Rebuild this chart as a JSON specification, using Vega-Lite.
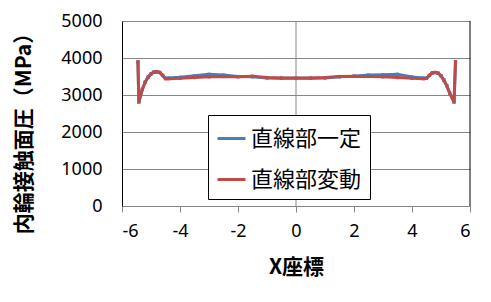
{
  "$schema": "https://vega.github.io/schema/vega-lite/v6.json",
  "width": 348,
  "height": 185,
  "autosize": {"type": "none"},
  "padding": {"left": 122, "top": 21, "right": 21, "bottom": 96},
  "background": "white",
  "config": {
    "view": {"stroke": null},
    "font": "Noto Sans CJK JP"
  },
  "datasets": {
    "series": [
      {"x": -5.45, "y": 3900, "s": "直線部一定"},
      {"x": -5.42, "y": 2810, "s": "直線部一定"},
      {"x": -5.3, "y": 3150, "s": "直線部一定"},
      {"x": -5.2, "y": 3350, "s": "直線部一定"},
      {"x": -5.1, "y": 3480, "s": "直線部一定"},
      {"x": -5.0, "y": 3570, "s": "直線部一定"},
      {"x": -4.9, "y": 3620, "s": "直線部一定"},
      {"x": -4.8, "y": 3630, "s": "直線部一定"},
      {"x": -4.7, "y": 3610, "s": "直線部一定"},
      {"x": -4.6, "y": 3530, "s": "直線部一定"},
      {"x": -4.5, "y": 3450, "s": "直線部一定"},
      {"x": -4.4, "y": 3460, "s": "直線部一定"},
      {"x": -4.0, "y": 3480, "s": "直線部一定"},
      {"x": -3.5, "y": 3520, "s": "直線部一定"},
      {"x": -3.0, "y": 3560, "s": "直線部一定"},
      {"x": -2.5, "y": 3540, "s": "直線部一定"},
      {"x": -2.0, "y": 3500, "s": "直線部一定"},
      {"x": -1.5, "y": 3490, "s": "直線部一定"},
      {"x": -1.0, "y": 3460, "s": "直線部一定"},
      {"x": -0.5, "y": 3450, "s": "直線部一定"},
      {"x": 0, "y": 3450, "s": "直線部一定"},
      {"x": 0.5, "y": 3450, "s": "直線部一定"},
      {"x": 1.0, "y": 3460, "s": "直線部一定"},
      {"x": 1.5, "y": 3490, "s": "直線部一定"},
      {"x": 2.0, "y": 3510, "s": "直線部一定"},
      {"x": 2.5, "y": 3540, "s": "直線部一定"},
      {"x": 3.0, "y": 3550, "s": "直線部一定"},
      {"x": 3.5, "y": 3560, "s": "直線部一定"},
      {"x": 4.0, "y": 3490, "s": "直線部一定"},
      {"x": 4.4, "y": 3460, "s": "直線部一定"},
      {"x": 4.5, "y": 3450, "s": "直線部一定"},
      {"x": 4.6, "y": 3530, "s": "直線部一定"},
      {"x": 4.7, "y": 3600, "s": "直線部一定"},
      {"x": 4.8, "y": 3610, "s": "直線部一定"},
      {"x": 4.9, "y": 3590, "s": "直線部一定"},
      {"x": 5.0, "y": 3520, "s": "直線部一定"},
      {"x": 5.1, "y": 3400, "s": "直線部一定"},
      {"x": 5.2, "y": 3250, "s": "直線部一定"},
      {"x": 5.3, "y": 3050, "s": "直線部一定"},
      {"x": 5.45, "y": 2810, "s": "直線部一定"},
      {"x": 5.5, "y": 3900, "s": "直線部一定"},
      {"x": -5.45, "y": 3900, "s": "直線部変動"},
      {"x": -5.42, "y": 2810, "s": "直線部変動"},
      {"x": -5.3, "y": 3150, "s": "直線部変動"},
      {"x": -5.2, "y": 3350, "s": "直線部変動"},
      {"x": -5.1, "y": 3480, "s": "直線部変動"},
      {"x": -5.0, "y": 3570, "s": "直線部変動"},
      {"x": -4.9, "y": 3620, "s": "直線部変動"},
      {"x": -4.8, "y": 3630, "s": "直線部変動"},
      {"x": -4.7, "y": 3610, "s": "直線部変動"},
      {"x": -4.6, "y": 3530, "s": "直線部変動"},
      {"x": -4.5, "y": 3440, "s": "直線部変動"},
      {"x": -4.4, "y": 3440, "s": "直線部変動"},
      {"x": -4.0, "y": 3450, "s": "直線部変動"},
      {"x": -3.5, "y": 3470, "s": "直線部変動"},
      {"x": -3.0, "y": 3490, "s": "直線部変動"},
      {"x": -2.5, "y": 3500, "s": "直線部変動"},
      {"x": -2.0, "y": 3490, "s": "直線部変動"},
      {"x": -1.5, "y": 3510, "s": "直線部変動"},
      {"x": -1.0, "y": 3470, "s": "直線部変動"},
      {"x": -0.5, "y": 3460, "s": "直線部変動"},
      {"x": 0, "y": 3460, "s": "直線部変動"},
      {"x": 0.5, "y": 3460, "s": "直線部変動"},
      {"x": 1.0, "y": 3470, "s": "直線部変動"},
      {"x": 1.5, "y": 3500, "s": "直線部変動"},
      {"x": 2.0, "y": 3510, "s": "直線部変動"},
      {"x": 2.5, "y": 3500, "s": "直線部変動"},
      {"x": 3.0, "y": 3490, "s": "直線部変動"},
      {"x": 3.5, "y": 3470, "s": "直線部変動"},
      {"x": 4.0, "y": 3450, "s": "直線部変動"},
      {"x": 4.4, "y": 3440, "s": "直線部変動"},
      {"x": 4.5, "y": 3450, "s": "直線部変動"},
      {"x": 4.6, "y": 3530, "s": "直線部変動"},
      {"x": 4.7, "y": 3600, "s": "直線部変動"},
      {"x": 4.8, "y": 3610, "s": "直線部変動"},
      {"x": 4.9, "y": 3590, "s": "直線部変動"},
      {"x": 5.0, "y": 3520, "s": "直線部変動"},
      {"x": 5.1, "y": 3400, "s": "直線部変動"},
      {"x": 5.2, "y": 3250, "s": "直線部変動"},
      {"x": 5.3, "y": 3050, "s": "直線部変動"},
      {"x": 5.45, "y": 2810, "s": "直線部変動"},
      {"x": 5.5, "y": 3900, "s": "直線部変動"}
    ],
    "mid": [{"x": 0}],
    "right": [{"x": 6}]
  },
  "layer": [
    {
      "data": {"name": "mid"},
      "mark": {"type": "rule", "strokeWidth": 1, "color": "#868686"},
      "encoding": {
        "x": {"field": "x", "type": "quantitative", "scale": {"domain": [-6, 6], "nice": false}}
      }
    },
    {
      "data": {"name": "right"},
      "mark": {"type": "rule", "strokeWidth": 1, "color": "#000000"},
      "encoding": {
        "x": {"field": "x", "type": "quantitative"}
      }
    },
    {
      "data": {"name": "series"},
      "mark": {"type": "line", "strokeWidth": 3, "point": {"size": 10, "filled": true, "shape": "square"}},
      "encoding": {
        "x": {
          "field": "x", "type": "quantitative",
          "scale": {"domain": [-6, 6], "nice": false},
          "axis": {
            "values": [-6, -4, -2, 0, 2, 4, 6],
            "labelExpr": "'' + datum.value",
            "title": "X座標", "titleFontSize": 21, "titleFontWeight": "bold", "titleColor": "#000",
            "titlePadding": 16,
            "labelFontSize": 18, "labelColor": "#000", "labelPadding": 10, "labelFont": "Noto Sans",
            "ticks": true, "tickSize": 6, "tickColor": "#868686",
            "grid": false, "domainColor": "#868686", "domainWidth": 1
          }
        },
        "y": {
          "field": "y", "type": "quantitative",
          "scale": {"domain": [0, 5000], "nice": false},
          "axis": {
            "values": [0, 1000, 2000, 3000, 4000, 5000],
            "labelExpr": "'' + datum.value",
            "title": "内輪接触面圧（MPa）", "titleFontSize": 21, "titleFontWeight": "bold", "titleColor": "#000",
            "titleX": -88, "titleY": 107, "titleAlign": "center", "titleBaseline": "bottom", "titleAngle": 270,
            "labelFontSize": 18, "labelColor": "#000", "labelPadding": 20, "labelFont": "Noto Sans",
            "ticks": false, "grid": true, "gridColor": "#868686", "gridWidth": 1,
            "domainColor": "#000", "domainWidth": 1
          }
        },
        "color": {
          "field": "s", "type": "nominal",
          "scale": {"domain": ["直線部一定", "直線部変動"], "range": ["#4a7ebb", "#be4b48"]},
          "legend": {
            "title": null, "orient": "none", "legendX": 86, "legendY": 94,
            "fillColor": "white", "strokeColor": "black", "padding": 8,
            "labelFontSize": 22, "labelColor": "#000", "labelFont": "Noto Sans CJK JP",
            "symbolType": "stroke", "symbolSize": 784, "symbolStrokeWidth": 3,
            "labelOffset": 4, "rowPadding": 14, "labelLimit": 300
          }
        }
      }
    }
  ]
}
